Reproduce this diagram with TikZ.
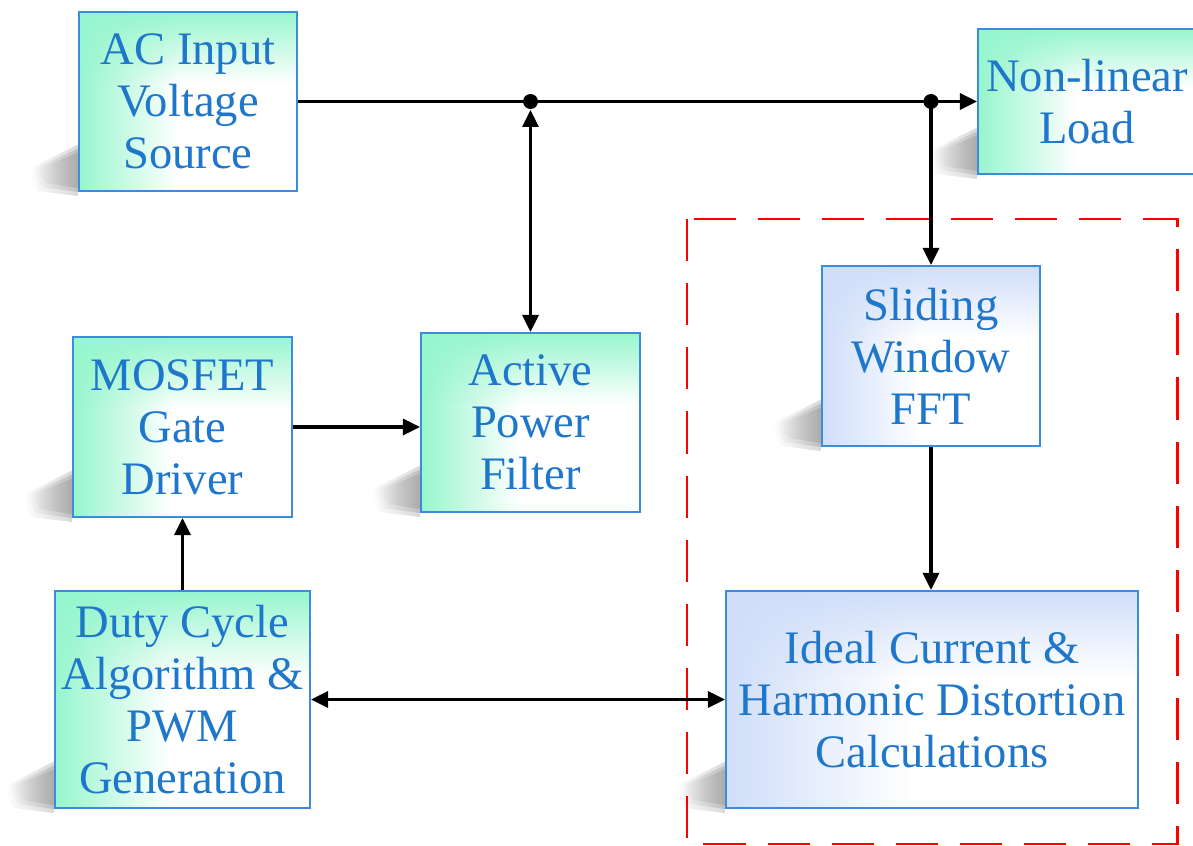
\documentclass[tikz,border=0pt]{standalone}
\usepackage{fontspec}
\setmainfont{Liberation Serif}
\usetikzlibrary{arrows.meta,fadings,backgrounds,calc}
\definecolor{txtblue}{RGB}{31,119,204}
\definecolor{boxline}{RGB}{60,140,220}
\definecolor{greenfill}{RGB}{150,246,205}
\definecolor{bluefill}{RGB}{208,222,250}
\tikzset{
  blk/.style={draw=boxline, line width=1.2pt, text=txtblue, align=center, inner sep=0pt,
    font=\fontsize{26.5}{29.6}\selectfont},
  link/.style={line width=1.8pt, -{Triangle[length=0.34cm,width=0.32cm]}},
  dbllink/.style={line width=1.8pt, {Triangle[length=0.34cm,width=0.32cm]}-{Triangle[length=0.34cm,width=0.32cm]}},
}
\begin{document}
\begin{tikzpicture}
  \useasboundingbox (0,0) rectangle (23.86,-16.92);
  \clip (0,0) rectangle (23.86,-16.92);
  \node[blk, minimum width=4.36cm, minimum height=3.58cm] (ac) at (3.76,-2.03) {AC Input\\Voltage\\Source};
  \node[blk, minimum width=4.36cm, minimum height=2.9cm] (load) at (21.74,-2.03) {Non-linear\\Load};
  \node[blk, minimum width=4.38cm, minimum height=3.6cm] (gate) at (3.65,-8.54) {MOSFET\\Gate\\Driver};
  \node[blk, minimum width=4.38cm, minimum height=3.58cm] (apf) at (10.61,-8.45) {Active\\Power\\Filter};
  \node[blk, minimum width=5.1cm, minimum height=4.34cm] (duty) at (3.65,-13.99) {Duty Cycle\\Algorithm \&\\PWM\\Generation};
  \node[blk, minimum width=4.36cm, minimum height=3.6cm] (fft) at (18.62,-7.12) {Sliding\\Window\\FFT};
  \node[blk, minimum width=8.24cm, minimum height=4.34cm] (calc) at (18.64,-13.99) {Ideal Current \&\\Harmonic Distortion\\Calculations};

  \begin{scope}[on background layer]
    \foreach \n/\c in {ac/greenfill,load/greenfill,gate/greenfill,apf/greenfill,duty/greenfill,fft/bluefill,calc/bluefill}{
      \foreach \s in {0,0.08,0.16}
        \fill[black!50, opacity=0.3, path fading=west] ([yshift=0.95cm-\s cm]\n.south west) -- ([xshift=-1.0cm+\s cm,yshift=0.45cm]\n.south west)
          -- ([xshift=-0.8cm+\s cm,yshift=0.02cm+\s cm]\n.south west) -- ([yshift=-0.08cm+\s cm]\n.south west) -- cycle;
      \fill[white] (\n.south west) rectangle (\n.north east);
      \fill[\c, path fading=east, fit fading=true] (\n.south west) rectangle ($(\n.north west)!0.45!(\n.north east)$);
      \fill[\c, path fading=south, fit fading=true] (\n.north east) rectangle ($(\n.north west)!0.4!(\n.south west)$);
    }
  \end{scope}

  \draw[red, line width=1.7pt, dash pattern=on 24pt off 12.5pt] (13.74,-4.38) rectangle (23.54,-16.88);

  \coordinate (j1) at (apf.north |- ac.east);
  \coordinate (j2) at (fft.north |- ac.east);
  \draw[link] (ac.east) -- (load.west);
  \draw[dbllink, shorten <=0.17cm] (j1) -- (apf.north);
  \draw[link] (j2) -- (fft.north);
  \fill (j1) circle (0.15cm);
  \fill (j2) circle (0.15cm);
  \draw[link] (fft.south) -- (fft.south |- calc.north);
  \draw[link] (gate.east) -- (gate.east -| apf.west);
  \draw[link] (duty.north) -- (gate.south);
  \draw[dbllink] (duty.east) -- (calc.west);
\end{tikzpicture}
\end{document}
